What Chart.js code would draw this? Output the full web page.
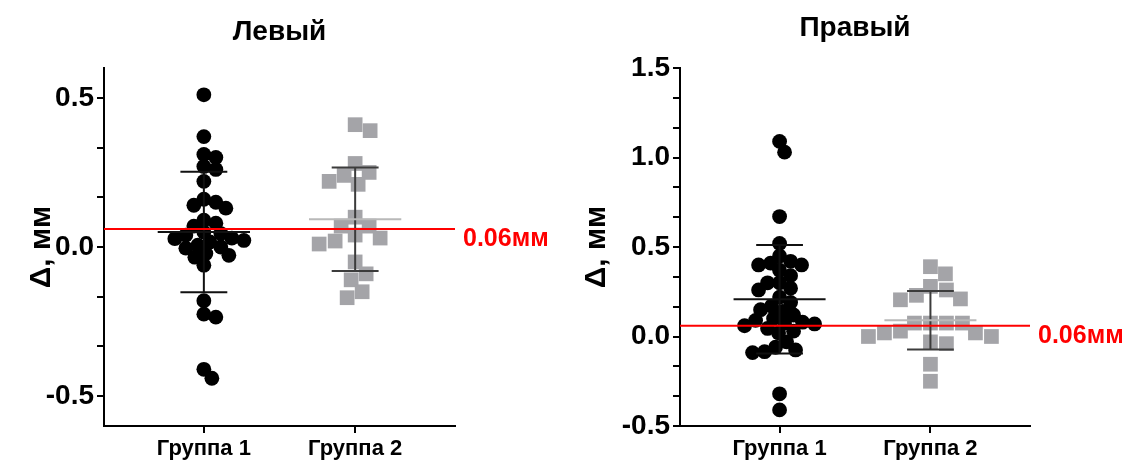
<!DOCTYPE html>
<html>
<head>
<meta charset="utf-8">
<script src="https://cdn.jsdelivr.net/npm/chart.js@4.4.0/dist/chart.umd.min.js"></script>
<style>
  html, body { margin: 0; padding: 0; background: #fff; }
  .wrap { display: flex; width: 1124px; height: 462px; }
  .panel { width: 562px; height: 462px; }
</style>
</head>
<body>
<div class="wrap">
  <div class="panel"><canvas id="leftChart" width="562" height="462"></canvas></div>
  <div class="panel"><canvas id="rightChart" width="562" height="462"></canvas></div>
</div>
<script>
const categories = ["Группа 1", "Группа 2"];

// Левый
const leftGroup1 = [0.51, 0.37, 0.31, 0.30, 0.27, 0.26, 0.22, 0.16, 0.15, 0.14, 0.13, 0.09, 0.08, 0.07,
  0.05, 0.045, 0.04, 0.03, 0.028, 0.022, 0.017, 0.006, 0.0, -0.004, -0.022, -0.028, -0.034, -0.061,
  -0.18, -0.225, -0.235, -0.41, -0.44];
const leftGroup2 = [0.41, 0.39, 0.28, 0.25, 0.24, 0.22, 0.21, 0.10, 0.07, 0.07, 0.04, 0.03, 0.02, 0.01,
  -0.05, -0.09, -0.11, -0.15, -0.17];

// Правый
const rightGroup1 = [1.09, 1.03, 0.67, 0.52, 0.45, 0.42, 0.41, 0.40, 0.40, 0.37, 0.34, 0.30, 0.30, 0.27, 0.26,
  0.22, 0.19, 0.17, 0.15, 0.14, 0.12, 0.10, 0.09, 0.08, 0.075, 0.07, 0.06, 0.045, 0.03, 0.02,
  -0.03, -0.06, -0.075, -0.085, -0.09, -0.32, -0.41];
const rightGroup2 = [0.39, 0.35, 0.28, 0.26, 0.23, 0.21, 0.205, 0.075, 0.075, 0.075, 0.075, 0.03, 0.02, 0.02,
  0.0, 0.0, -0.03, -0.04, -0.155, -0.25];

const threshold = 0.06;
const thresholdLabel = "0.06мм";
const yAxisTitle = "Δ, мм";

const FONT = "'Liberation Sans', Arial, sans-serif";
const X_MIN = 0.34, X_MAX = 2.66;
const TITLE_SIZE = 28, TITLE_LH = TITLE_SIZE * 1.2, TOP_BOX = 68;

function mean(v) {
  return v.reduce((a, b) => a + b, 0) / v.length;
}
function sd(v) {
  const m = mean(v);
  return Math.sqrt(v.reduce((a, b) => a + (b - m) * (b - m), 0) / (v.length - 1));
}

function seg(x1, y1, x2, y2, color) {
  return {
    data: [{ x: x1, y: y1 }, { x: x2, y: y2 }],
    showLine: true, borderColor: color, borderWidth: 2, pointRadius: 0, fill: false
  };
}

// mean line + SD whisker with caps
function errorBars(values, g, barColor, meanColor) {
  const m = mean(values), s = sd(values);
  return [
    seg(g - 0.305, m, g + 0.305, m, meanColor),
    seg(g, m - s, g, m + s, barColor),
    seg(g - 0.155, m + s, g + 0.155, m + s, barColor),
    seg(g - 0.155, m - s, g + 0.155, m - s, barColor)
  ];
}

// greedy beeswarm in pixel space, returns x offsets in data units
function swarmOffsets(values, xScale, yScale, minDist) {
  const pxPerUnit = xScale.getPixelForValue(1) - xScale.getPixelForValue(0);
  const order = values.map((v, i) => i).sort((a, b) => values[b] - values[a]);
  const placed = [];
  const offsets = new Array(values.length).fill(0);
  order.forEach(i => {
    const py = yScale.getPixelForValue(values[i]);
    for (let k = 0; k < 400; k++) {
      const dx = k === 0 ? 0 : (k % 2 ? (k + 1) / 2 : -k / 2);
      const hit = placed.some(p => (p.x - dx) ** 2 + (p.y - py) ** 2 < minDist * minDist);
      if (!hit) {
        placed.push({ x: dx, y: py });
        offsets[i] = dx / pxPerUnit;
        break;
      }
    }
  });
  return offsets;
}

const thresholdLabelPlugin = {
  id: "thresholdLabel",
  afterDatasetsDraw(chart) {
    const { ctx, chartArea, scales } = chart;
    const y = scales.y.getPixelForValue(threshold);
    ctx.save();
    ctx.fillStyle = "#ff0000";
    ctx.font = "bold 25px " + FONT;
    ctx.textAlign = "left";
    ctx.textBaseline = "middle";
    ctx.fillText(thresholdLabel, chartArea.right + 8, y + 10);
    ctx.restore();
  }
};

function buildChart(canvasId, cfg) {
  const g1 = cfg.group1, g2 = cfg.group2;
  const datasets = [
    seg(X_MIN, threshold, X_MAX, threshold, "#ff0000"),
    ...errorBars(g1, 1, "#111111", "#111111"),
    ...errorBars(g2, 2, "#3c3c3c", "#b9b9b9"),
    {
      data: g1.map(v => ({ x: 1, y: v })),
      pointStyle: "circle", pointRadius: 7.4, backgroundColor: "#000000", borderWidth: 0
    },
    {
      data: g2.map(v => ({ x: 2, y: v })),
      pointStyle: "rect", pointRadius: 10.4, backgroundColor: "#a4a4a8", borderWidth: 0
    }
  ];
  const n = datasets.length;
  const titleTop = cfg.titleCenter - TITLE_LH / 2;

  const chart = new Chart(document.getElementById(canvasId), {
    type: "scatter",
    data: { datasets },
    options: {
      responsive: false,
      animation: false,
      events: [],
      layout: { padding: { left: 0, right: cfg.padRight, top: 0, bottom: 0 } },
      plugins: {
        legend: { display: false },
        tooltip: { enabled: false },
        title: {
          display: true,
          text: cfg.title,
          color: "#000",
          fullSize: false,
          font: { family: FONT, weight: "bold", size: TITLE_SIZE },
          padding: { top: titleTop, bottom: TOP_BOX - TITLE_LH - titleTop }
        }
      },
      scales: {
        x: {
          type: "linear",
          min: X_MIN,
          max: X_MAX,
          afterBuildTicks: s => { s.ticks = categories.map((c, i) => ({ value: i + 1 })); },
          afterFit: s => { s.height = 36; },
          ticks: {
            callback: (v, i) => categories[i],
            color: "#000",
            font: { family: FONT, weight: "bold", size: 22 },
            padding: 3,
            maxRotation: 0,
            autoSkip: false
          },
          grid: { drawOnChartArea: false, tickLength: 7, color: "#000", lineWidth: 2 },
          border: { color: "#000", width: 2 }
        },
        y: {
          min: cfg.yMin,
          max: cfg.yMax,
          afterBuildTicks: s => {
            const ticks = [];
            for (let k = Math.ceil(cfg.yMin * 6 - 1e-9); k <= Math.floor(cfg.yMax * 6 + 1e-9); k++) {
              ticks.push({ value: k / 6 });
            }
            s.ticks = ticks;
          },
          afterFit: s => { s.width = cfg.axisWidth; },
          ticks: {
            callback: v => {
              const major = Math.abs(v * 2 - Math.round(v * 2)) < 1e-6;
              return major ? v.toFixed(1) : "";
            },
            color: "#000",
            font: { family: FONT, weight: "bold", size: 28 },
            padding: 3,
            autoSkip: false
          },
          title: {
            display: true,
            text: yAxisTitle,
            color: "#000",
            font: { family: FONT, weight: "bold", size: 30 },
            padding: { top: cfg.yTitlePad, bottom: 0 }
          },
          grid: { drawOnChartArea: false, tickLength: 7, color: "#000", lineWidth: 2 },
          border: { color: "#000", width: 2 }
        }
      }
    },
    plugins: [thresholdLabelPlugin]
  });

  // spread the dots horizontally once the scales exist
  const o1 = swarmOffsets(g1, chart.scales.x, chart.scales.y, 11.5);
  const o2 = swarmOffsets(g2, chart.scales.x, chart.scales.y, 16);
  chart.data.datasets[n - 2].data = g1.map((v, i) => ({ x: 1 + o1[i], y: v }));
  chart.data.datasets[n - 1].data = g2.map((v, i) => ({ x: 2 + o2[i], y: v }));
  chart.update();
  return chart;
}

buildChart("leftChart", {
  title: "Левый", titleCenter: 32, group1: leftGroup1, group2: leftGroup2,
  yMin: -0.6, yMax: 0.6, axisWidth: 104, yTitlePad: 24, padRight: 107
});
buildChart("rightChart", {
  title: "Правый", titleCenter: 28, group1: rightGroup1, group2: rightGroup2,
  yMin: -0.5, yMax: 1.5, axisWidth: 118, yTitlePad: 17, padRight: 94
});
</script>
</body>
</html>
